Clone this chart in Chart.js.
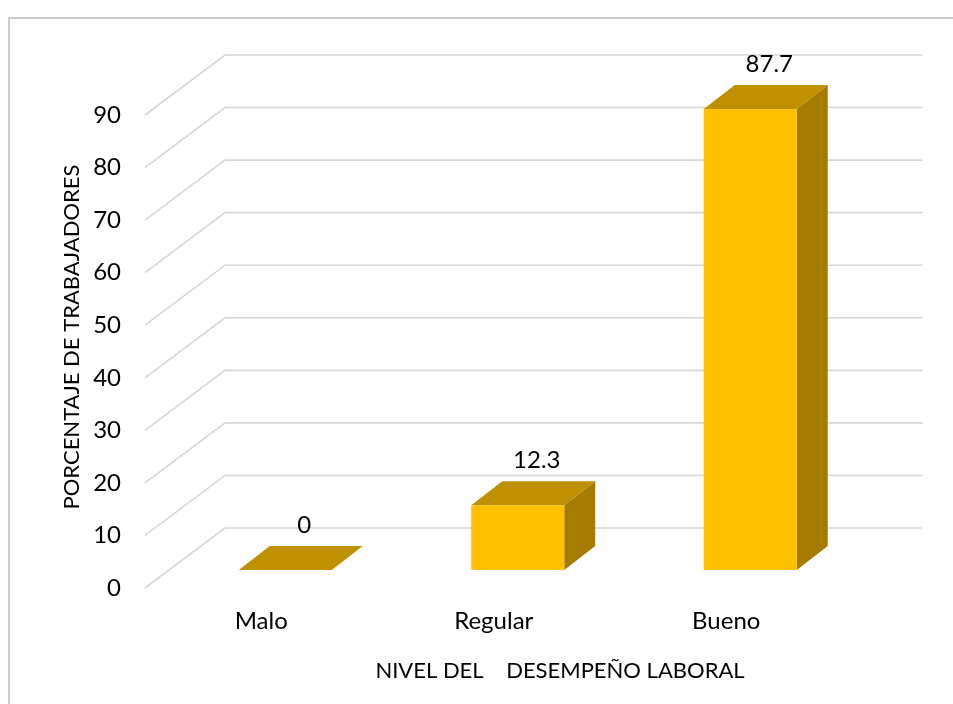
<!DOCTYPE html>
<html>
<head>
<meta charset="utf-8">
<script src="https://cdn.jsdelivr.net/npm/chart.js@4"></script>
<style>
  body { margin: 0; background: #fff; }
  canvas { display: block; }
</style>
</head>
<body>
<canvas id="grafico" width="953" height="704"></canvas>
<script>
const categorias = ['Malo', 'Regular', 'Bueno'];
const porcentajes = [0, 12.3, 87.7];
const yMin = 0;
const yMax = 90;
const yPaso = 10;

const tituloX = 'NIVEL DEL    DESEMPEÑO LABORAL';
const tituloY = 'PORCENTAJE DE TRABAJADORES';

const fuente = 'Lato';
const tamFuente = 24;
const tamTitulo = 22;

// desplazamientos de la perspectiva
const pared = { dx: 80, dy: -60 };     // plano del fondo
const frente = { dx: 24, dy: -18 };    // cara frontal de las barras
const fondo = { dx: 31, dy: -24 };     // profundidad de cada barra

const colorFrente = '#FFC000';
const colorTapa = '#BF9000';
const colorLado = '#A67C00';

const efecto3d = {
  id: 'efecto3d',
  beforeDatasetsDraw(chart) {
    const ctx = chart.ctx;
    const area = chart.chartArea;
    const y = chart.scales.y;

    // marco del grafico
    ctx.save();
    ctx.fillStyle = '#cccccc';
    ctx.fillRect(8, 17, chart.width - 8, 2);
    ctx.fillRect(8, 17, 2, chart.height - 17);
    ctx.restore();

    // lineas de division en la pared lateral y el fondo
    ctx.save();
    ctx.strokeStyle = '#d6d6d6';
    ctx.lineWidth = 1.6;
    y.ticks.forEach(t => {
      const py = y.getPixelForValue(t.value);
      ctx.beginPath();
      ctx.moveTo(area.left, py);
      ctx.lineTo(area.left + pared.dx, py + pared.dy);
      ctx.lineTo(area.right + pared.dx, py + pared.dy);
      ctx.stroke();
    });
    ctx.restore();
  },
  beforeDatasetDraw() {
    return false;
  },
  afterDatasetsDraw(chart) {
    const ctx = chart.ctx;
    const meta = chart.getDatasetMeta(0);
    const valores = chart.data.datasets[0].data;

    meta.data.forEach((barra, i) => {
      const p = barra.getProps(['x', 'y', 'base', 'width'], true);
      const x0 = p.x - p.width / 2 + frente.dx;
      const x1 = p.x + p.width / 2 + frente.dx;
      const yTop = p.y + frente.dy;
      const yBase = p.base + frente.dy;

      ctx.save();
      // cara lateral
      ctx.fillStyle = colorLado;
      ctx.beginPath();
      ctx.moveTo(x1, yTop);
      ctx.lineTo(x1 + fondo.dx, yTop + fondo.dy);
      ctx.lineTo(x1 + fondo.dx, yBase + fondo.dy);
      ctx.lineTo(x1, yBase);
      ctx.closePath();
      ctx.fill();

      // cara frontal
      ctx.fillStyle = colorFrente;
      ctx.fillRect(x0, yTop, x1 - x0, yBase - yTop);

      // tapa
      ctx.fillStyle = colorTapa;
      ctx.beginPath();
      ctx.moveTo(x0, yTop);
      ctx.lineTo(x1, yTop);
      ctx.lineTo(x1 + fondo.dx, yTop + fondo.dy);
      ctx.lineTo(x0 + fondo.dx, yTop + fondo.dy);
      ctx.closePath();
      ctx.fill();

      // etiqueta de valor
      ctx.fillStyle = '#000';
      ctx.font = tamFuente + 'px ' + fuente;
      ctx.textAlign = 'center';
      ctx.textBaseline = 'alphabetic';
      ctx.fillText(String(valores[i]), p.x + frente.dx + 19, yTop + fondo.dy - 13);
      ctx.restore();
    });
  },
  afterDraw(chart) {
    const ctx = chart.ctx;
    ctx.save();
    ctx.fillStyle = '#000';
    ctx.font = tamTitulo + 'px ' + fuente;
    ctx.textAlign = 'center';
    ctx.textBaseline = 'middle';
    ctx.fillText(tituloX, 560, 671);

    ctx.translate(72, 337);
    ctx.rotate(-Math.PI / 2);
    ctx.fillText(tituloY, 0, 0);
    ctx.restore();
  }
};

new Chart(document.getElementById('grafico'), {
  type: 'bar',
  data: {
    labels: categorias,
    datasets: [{
      data: porcentajes,
      backgroundColor: colorFrente,
      barPercentage: 0.4,
      categoryPercentage: 1
    }]
  },
  options: {
    responsive: false,
    animation: false,
    layout: { padding: { top: 115, right: 110.5, left: 0, bottom: 0 } },
    plugins: {
      legend: { display: false },
      tooltip: { enabled: false }
    },
    scales: {
      x: {
        grid: { display: false, drawTicks: false },
        border: { display: false },
        ticks: { color: '#000', padding: 19, font: { family: fuente, size: tamFuente } },
        afterFit: s => { s.height = 116; }
      },
      y: {
        min: yMin,
        max: yMax,
        grid: { display: false, drawTicks: false },
        border: { display: false },
        ticks: { stepSize: yPaso, color: '#000', padding: 24, font: { family: fuente, size: tamFuente } },
        afterFit: s => { s.width = 145; }
      }
    }
  },
  plugins: [efecto3d]
});
</script>
</body>
</html>
